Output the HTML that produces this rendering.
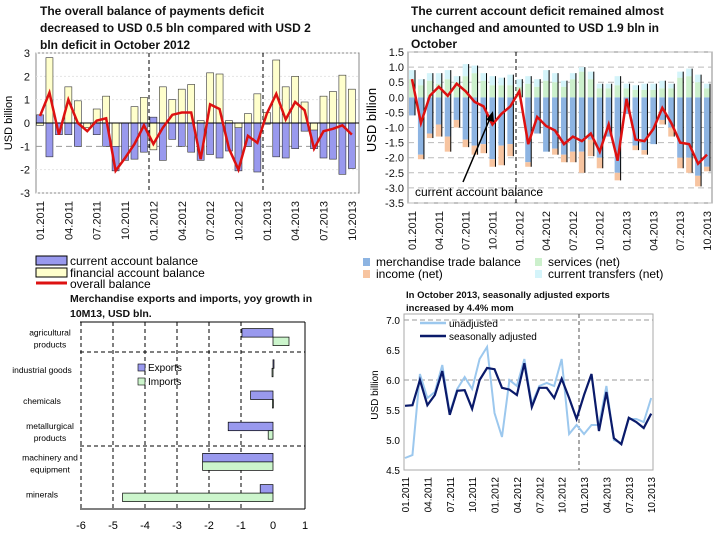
<!DOCTYPE html>
<html><head><meta charset="utf-8"><style>
body{margin:0;background:#fff;}
svg{display:block;font-family:"Liberation Sans",sans-serif;}
.t{font-weight:bold;font-size:12px;fill:#111;}
.tk{font-size:11px;fill:#111;}
</style></head><body>
<svg id="s" width="720" height="540" viewBox="0 0 720 540">
<g>
<text class="t" x="40" y="15">The overall balance of payments deficit</text>
<text class="t" x="40" y="32">decreased to USD 0.5 bln compared with USD 2</text>
<text class="t" x="40" y="49">bln deficit in October 2012</text></g>
<g>
<text class="t" x="411" y="15">The current account deficit remained almost</text>
<text class="t" x="411" y="32">unchanged and amounted to USD 1.9 bln in</text>
<text class="t" x="411" y="48">October</text></g>
<g>
<text class="t" x="70" y="302" style="font-size:10.5px">Merchandise exports and imports, yoy growth in</text>
<text class="t" x="70" y="317" style="font-size:10.5px">10M13, USD bln.</text></g>
<g>
<text class="t" x="406" y="298" style="font-size:9.5px">In October 2013, seasonally adjusted exports</text>
<text class="t" x="406" y="311" style="font-size:9.5px">increased  by 4.4% mom</text></g>
<g id="g1"></g>
<g id="g2"></g>
<g id="g3"></g>
<g id="g4"></g>
</svg>
<script>
const months=["01.2011","02.2011","03.2011","04.2011","05.2011","06.2011","07.2011","08.2011","09.2011","10.2011","11.2011","12.2011","01.2012","02.2012","03.2012","04.2012","05.2012","06.2012","07.2012","08.2012","09.2012","10.2012","11.2012","12.2012","01.2013","02.2013","03.2013","04.2013","05.2013","06.2013","07.2013","08.2013","09.2013","10.2013"];
const caBal=[0.35,-1.45,-0.5,-0.5,-1.0,-0.15,-0.5,-1.0,-2.05,-1.6,-1.55,-1.25,0.25,-1.6,-0.7,-1.0,-1.25,-1.6,-1.35,-1.5,-1.2,-2.05,-1.0,-2.1,-0.05,-1.45,-1.5,-1.1,-0.35,-1.1,-1.5,-1.55,-2.2,-1.95];
const faBal=[-0.1,2.8,0,1.55,0.95,-0.2,0.6,1.15,-1.0,0,0.7,1.1,-1.15,1.55,1.0,1.45,1.65,0.1,2.15,2.1,0.1,-0.2,0.4,1.25,0.45,2.7,1.55,2.0,0.9,-0.3,1.15,1.35,2.05,1.45];
const overall=[0.3,1.3,-0.5,1.0,0.0,-0.35,0.1,0.2,-2.05,-1.5,-0.9,-0.1,-0.9,-0.2,0.35,0.45,0.45,-1.55,0.8,0.6,-1.1,-2.0,-0.55,-0.85,0.4,1.25,0.15,0.9,0.55,-1.1,-0.35,-0.25,-0.1,-0.5];
const ticks1=[3,2,1,0,-1,-2,-3];
const merch=[-0.6,-1.9,-1.2,-0.9,-1.3,-0.75,-1.4,-1.6,-1.55,-2.05,-1.6,-1.55,0,-2.15,-1.2,-1.8,-1.7,-1.9,-1.8,-1.8,-1.4,-2.0,-1.3,-2.5,-0.55,-1.6,-1.75,-1.55,-0.75,-1.0,-2.0,-2.0,-2.6,-2.3];
const income=[0,-0.15,-0.15,-0.4,-0.5,-0.25,-0.25,-0.3,-0.3,-0.25,-0.65,-0.4,0,-0.15,0,0,-0.2,-0.25,-0.35,-0.7,-0.55,-0.35,0,-0.25,0,-0.15,-0.15,0,-0.15,-0.3,-0.35,-0.5,-0.35,-0.15];
const services=[0.6,0.4,0.55,0.45,0.6,0.5,0.7,0.8,0.55,0.4,0.4,0.4,0.35,0.45,0.35,0.55,0.5,0.35,0.6,0.85,0.6,0.3,0.3,0.4,0.3,0.25,0.25,0.25,0.3,0.3,0.65,0.7,0.5,0.3];
const transfers=[0.3,0.2,0.25,0.35,0.3,0.2,0.4,0.25,0.25,0.3,0.25,0.35,0.25,0.25,0.25,0.35,0.3,0.2,0.2,0.15,0.25,0.15,0.15,0.3,0.15,0.15,0.2,0.2,0.25,0.15,0.2,0.25,0.25,0.15];
const caLine=[0.6,-0.85,0.05,0.35,0.05,0.45,0.2,-0.15,-0.3,-0.9,-0.55,-0.3,0.2,-1.55,-0.65,-0.95,-1.1,-1.55,-1.3,-1.45,-1.2,-1.8,-0.9,-2.1,-0.05,-1.4,-1.45,-1.05,-0.35,-0.85,-1.5,-1.55,-2.2,-1.9];
const ticks2=[1.5,1.0,0.5,0.0,-0.5,-1.0,-1.5,-2.0,-2.5,-3.0,-3.5];
const categories=[["agricultural","products"],["industrial goods"],["chemicals"],["metallurgical","products"],["machinery and","equipment"],["minerals"]];
const exportsG=[-0.97,0.02,-0.7,-1.4,-2.2,-0.4];
const importsG=[0.5,-0.03,-0.02,-0.15,-2.2,-4.7];
const ticks3=[-6,-5,-4,-3,-2,-1,0,1];
const unadj=[4.7,4.75,6.1,5.7,5.8,6.25,5.45,5.85,6.05,5.85,6.35,6.55,5.45,5.05,6.0,5.9,6.35,5.6,5.9,5.95,5.9,6.35,5.1,5.25,5.1,5.25,5.25,5.9,5.0,4.95,5.35,5.35,5.3,5.7];
const sadj=[5.57,5.58,6.0,5.58,5.75,6.15,5.42,5.82,5.83,5.52,6.0,6.2,6.18,5.87,5.84,5.75,6.28,5.55,5.87,5.87,5.7,6.02,5.7,5.35,5.75,6.1,5.15,5.8,5.03,4.93,5.37,5.3,5.2,5.44];
const ticks4=[7.0,6.5,6.0,5.5,5.0,4.5];

const NS="http://www.w3.org/2000/svg";
function mk(p,tag,a,txt){const e=document.createElementNS(NS,tag);for(const k in a)e.setAttribute(k,a[k]);if(txt!==undefined)e.textContent=txt;p.appendChild(e);return e;}
function rotLabels(g,xf,y,every,start){months.forEach((m,i)=>{if(i%3!==0)return;const x=xf(i);
const t=mk(g,'text',{x:0,y:0,transform:`translate(${x+4},${y}) rotate(-90)`,'text-anchor':'end',class:'tk','font-size':'11'},m);

});}

// Chart 1
(function(){const g=document.getElementById('g1');
const x=i=>40+i*9.45, y=v=>123-v*23.33;
mk(g,'rect',{x:36,y:53,width:323,height:140,fill:'none',stroke:'#888','stroke-width':1});
ticks1.forEach(v=>{if(v!==0&&v!==-1)mk(g,'line',{x1:36,x2:359,y1:y(v),y2:y(v),stroke:'#e4e4e4','stroke-dasharray':'2,2'});
const t=mk(g,'text',{x:30,y:y(v)+4,'text-anchor':'end',class:'tk','font-size':'12'},v);

});
mk(g,'line',{x1:36,x2:359,y1:y(-1),y2:y(-1),stroke:'#999','stroke-dasharray':'6,4'});
[149,263].forEach(X=>mk(g,'line',{x1:X,x2:X,y1:53,y2:193,stroke:'#000','stroke-dasharray':'4,3'}));
const yt=mk(g,'text',{transform:'translate(12,123) rotate(-90)','text-anchor':'middle','font-size':'11'},'USD billion');


months.forEach((m,i)=>{const v=caBal[i];const r=mk(g,'rect',{x:x(i)-3.5,y:Math.min(y(0),y(v)),width:7,height:Math.abs(y(v)-y(0)),fill:'#9999ee',stroke:'#333','stroke-width':0.6});


const f=faBal[i];const r2=mk(g,'rect',{x:x(i)-3.5,y:Math.min(y(0),y(f)),width:7,height:Math.abs(y(f)-y(0)),fill:'#ffffcc',stroke:'#333','stroke-width':0.6});

});
mk(g,'line',{x1:36,x2:359,y1:y(0),y2:y(0),stroke:'#000'});
const p=mk(g,'polyline',{points:overall.map((v,i)=>x(i)+','+y(v)).join(' '),fill:'none',stroke:'#dd1111','stroke-width':2.5});


rotLabels(g,x,201);
const L=[['#9999ee','current account balance'],['#ffffcc','financial account balance']];
L.forEach((l,k)=>{mk(g,'rect',{x:36,y:256+k*12,width:31,height:9,fill:l[0],stroke:'#000'});
const t=mk(g,'text',{x:70,y:265+k*12,'font-size':'12'},l[1]);});
mk(g,'line',{x1:36,x2:67,y1:283,y2:283,stroke:'#dd1111','stroke-width':3});
const t3=mk(g,'text',{x:70,y:288,'font-size':'12'},'overall balance');
})();

// Chart 2
(function(){const g=document.getElementById('g2');
const x=i=>412+i*8.94, y=v=>97.3-v*30.2;
mk(g,'rect',{x:408,y:52,width:304,height:151,fill:'none',stroke:'#888'});
ticks2.forEach(v=>{if(v!==0)mk(g,'line',{x1:408,x2:712,y1:y(v),y2:y(v),stroke:'#bbb','stroke-dasharray':'6,4'});
const t=mk(g,'text',{x:404,y:y(v)+4,'text-anchor':'end',class:'tk','font-size':'12'},v.toFixed(1));

});
mk(g,'line',{x1:516,x2:516,y1:52,y2:203,stroke:'#000','stroke-dasharray':'4,3'});
const yt=mk(g,'text',{transform:'translate(376,120) rotate(-90)','text-anchor':'middle','font-size':'13'},'USD billion');


months.forEach((m,i)=>{const X=x(i)-3;
const seg=(a,b,c,n)=>{const r=mk(g,'rect',{x:X,y:Math.min(y(a),y(b)),width:6,height:Math.abs(y(a)-y(b)),fill:c});};
seg(0,merch[i],'#8db4e2','merchandise-bar');
seg(merch[i],merch[i]+income[i],'#f7c4a0','income-bar');
seg(0,services[i],'#ccf0cc','services-bar');
seg(services[i],services[i]+transfers[i],'#d4f4fa','transfers-bar');
mk(g,'line',{x1:X+6,x2:X+6,y1:y(services[i]+transfers[i]),y2:y(merch[i]+income[i]),stroke:'#000','stroke-width':1});});
const p=mk(g,'polyline',{points:caLine.map((v,i)=>x(i)+','+y(v)).join(' '),fill:'none',stroke:'#dd1111','stroke-width':2.5});


mk(g,'line',{x1:463,y1:182,x2:491,y2:116,stroke:'#000','stroke-width':1.5});
mk(g,'polygon',{points:'493,111 486,120 494,122',fill:'#000'});
const an=mk(g,'text',{x:415,y:196,'font-size':'12'},'current account balance');
rotLabels(g,x,211);
const L=[['#8db4e2','merchandise trade balance',363,266],['#ccf0cc','services (net)',535,266],['#f7c4a0','income (net)',363,278],['#d4f4fa','current transfers (net)',535,278]];
L.forEach(l=>{mk(g,'rect',{x:l[2],y:l[3]-8,width:7,height:8,fill:l[0]});
const t=mk(g,'text',{x:l[2]+13,y:l[3],'font-size':'12'},l[1]);});
})();

// Chart 3
(function(){const g=document.getElementById('g3');
const x=v=>273+v*32, top=322, h=31.2;
mk(g,'line',{x1:80,x2:305,y1:322,y2:322,stroke:'#000'});
mk(g,'line',{x1:305,x2:305,y1:322,y2:509,stroke:'#000'});
mk(g,'line',{x1:80,x2:305,y1:509,y2:509,stroke:'#000'});
ticks3.forEach(v=>{if(v<0)mk(g,'line',{x1:x(v),x2:x(v),y1:322,y2:509,stroke:'#000','stroke-dasharray':'4,3'});
const t=mk(g,'text',{x:x(v),y:529,'text-anchor':'middle','font-size':'11'},v);});
[352,446].forEach(Y=>mk(g,'line',{x1:80,x2:305,y1:Y,y2:Y,stroke:'#000','stroke-dasharray':'4,3'}));
categories.forEach((c,i)=>{const cy=top+h*i+h/2;
c.forEach((s,k)=>{const t=mk(g,'text',{x:c.length>1?50:42,y:cy+4+(k-(c.length-1)/2)*12,'text-anchor':'middle','font-size':'8.5'},s);});
const e=exportsG[i],m=importsG[i];
const r=mk(g,'rect',{x:Math.min(x(0),x(e)),y:cy-9,width:Math.max(1,Math.abs(x(e)-x(0))),height:8.5,fill:'#9999ee',stroke:'#000','stroke-width':0.7});
const r2=mk(g,'rect',{x:Math.min(x(0),x(m)),y:cy-0.5,width:Math.max(1,Math.abs(x(m)-x(0))),height:8.5,fill:'#ccf5cc',stroke:'#000','stroke-width':0.7});});
[['#9999ee','Exports',371],['#ccf5cc','Imports',385]].forEach(l=>{mk(g,'rect',{x:138,y:l[2]-7,width:7,height:7,fill:l[0],stroke:'#000','stroke-width':0.6});
const t=mk(g,'text',{x:148,y:l[2],'font-size':'10'},l[1]);});
})();

// Chart 4
(function(){const g=document.getElementById('g4');
const x=i=>405+i*7.46, y=v=>320+(7-v)*60;
mk(g,'rect',{x:404,y:314,width:249,height:156,fill:'none',stroke:'#aaa'});
ticks4.forEach(v=>{if(v===7||v===6)mk(g,'line',{x1:404,x2:653,y1:y(v),y2:y(v),stroke:'#999','stroke-dasharray':'5,3'});
const t=mk(g,'text',{x:400,y:y(v)+4,'text-anchor':'end','font-size':'10'},v.toFixed(1));});
mk(g,'line',{x1:579,x2:579,y1:314,y2:470,stroke:'#555','stroke-dasharray':'4,3'});
const yt=mk(g,'text',{transform:'translate(378,395) rotate(-90)','text-anchor':'middle','font-size':'10'},'USD billion');
const p1=mk(g,'polyline',{points:unadj.map((v,i)=>x(i)+','+y(v)).join(' '),fill:'none',stroke:'#9cc8ee','stroke-width':2});
const p2=mk(g,'polyline',{points:sadj.map((v,i)=>x(i)+','+y(v)).join(' '),fill:'none',stroke:'#0a1a6a','stroke-width':2.2});
months.forEach((m,i)=>{if(i%3)return;const t=mk(g,'text',{transform:`translate(${x(i)+4},477) rotate(-90)`,'text-anchor':'end','font-size':'10'},m);});
[['#9cc8ee','unadjusted',327],['#0a1a6a','seasonally adjusted',340]].forEach(l=>{mk(g,'line',{x1:420,x2:446,y1:l[2]-4,y2:l[2]-4,stroke:l[0],'stroke-width':2.5});
const t=mk(g,'text',{x:449,y:l[2],'font-size':'10'},l[1]);});
})();
</script>
</body></html>
